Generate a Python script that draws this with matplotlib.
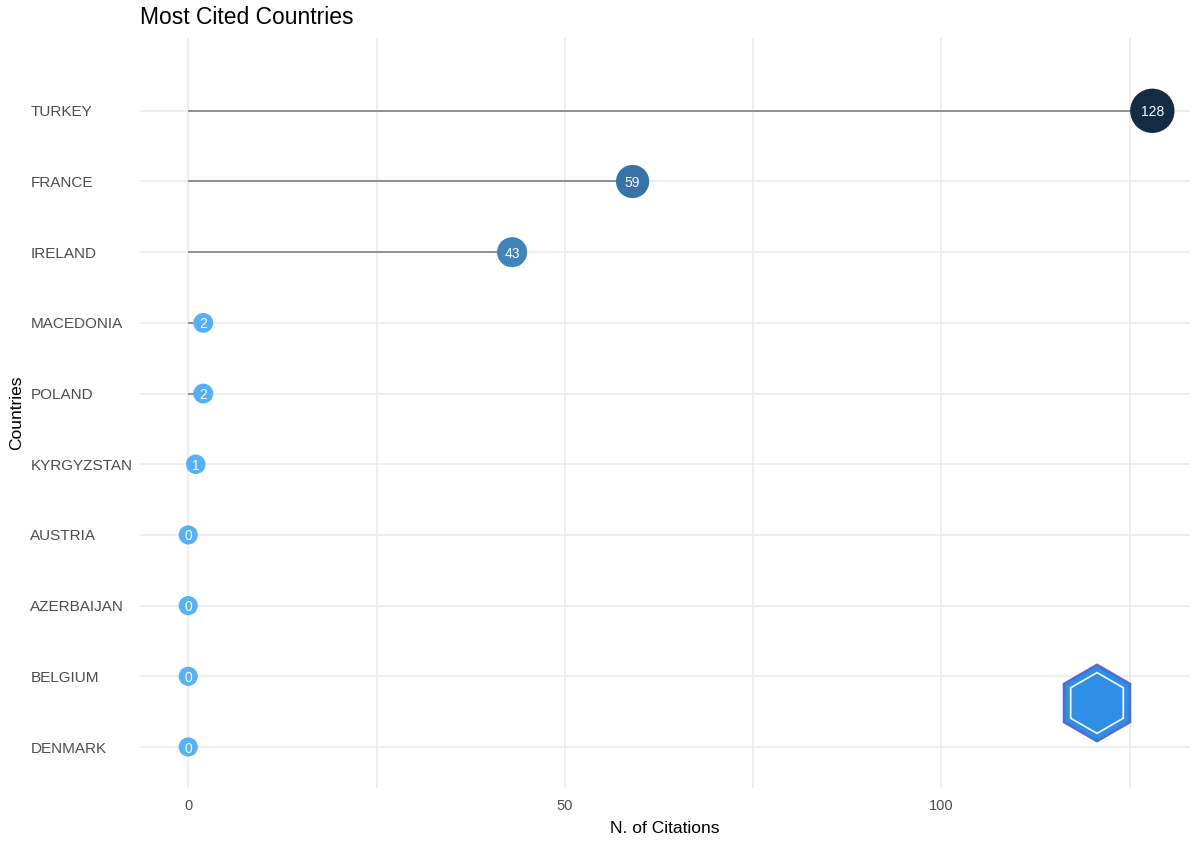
import numpy as np
import matplotlib.pyplot as plt
import matplotlib.colors as mcolors
from matplotlib.patches import Polygon

plt.rcParams['font.family'] = ['Liberation Sans', 'DejaVu Sans']

# data (top to bottom as shown)
countries = ['TURKEY', 'FRANCE', 'IRELAND', 'MACEDONIA', 'POLAND',
             'KYRGYZSTAN', 'AUSTRIA', 'AZERBAIJAN', 'BELGIUM', 'DENMARK']
citations = [128, 59, 43, 2, 2, 1, 0, 0, 0, 0]
x_ticks = [0, 50, 100]

fig = plt.figure(figsize=(11.98, 8.41), dpi=100)
ax = fig.add_axes([140 / 1198, 1 - 788 / 841, 1050 / 1198, (788 - 38) / 841])

n = len(countries)
ypos = np.arange(n, 0, -1)
vals = np.array(citations, dtype=float)

cmap = mcolors.LinearSegmentedColormap.from_list('gg', ['#56B1F7', '#132B43'])
norm = mcolors.Normalize(vmin=vals.min(), vmax=vals.max())
sizes = 190 + 830 * vals / vals.max()

ax.hlines(ypos, 0, vals, color='#7f7f7f', linewidth=1.2, zorder=2)
ax.scatter(vals, ypos, s=sizes, c=cmap(norm(vals)), zorder=3, linewidths=0)
for v, y in zip(citations, ypos):
    ax.text(v, y, str(v), color='white', ha='center', va='center_baseline',
            fontsize=10, zorder=4)

ax.set_xlim(-6.4, 133)
ax.set_ylim(0.42, n + 1.03)
ax.set_xticks(x_ticks)
ax.set_xticks([25, 75, 125], minor=True)
ax.set_yticks(ypos)
ax.set_yticklabels(countries)
for lab in ax.get_yticklabels():
    lab.set_horizontalalignment('left')
ax.tick_params(axis='y', pad=79, length=0, labelsize=11, labelcolor='#4d4d4d')
ax.tick_params(axis='x', length=0, labelsize=10.5, labelcolor='#4d4d4d', pad=8)
ax.tick_params(which='minor', length=0)

ax.grid(True, which='major', color='#ebebeb', linewidth=1.2)
ax.grid(True, which='minor', axis='x', color='#ebebeb', linewidth=1.2)
ax.set_axisbelow(True)
for sp in ax.spines.values():
    sp.set_visible(False)

ax.set_xlabel('N. of Citations', fontsize=12.5, labelpad=6)
ax.set_ylabel('Countries', fontsize=12.5)
ax.yaxis.set_label_coords(-116 / 1050, 0.5)
fig.text(140 / 1198, 1 - 17 / 841, 'Most Cited Countries', fontsize=16.5,
         ha='left', va='center')

# logo placeholder: pointy-top hexagon, drawn in inches
cx, cy, r = 10.97, 1.38, 0.38
ang = np.deg2rad(90 + 60 * np.arange(6))
hexa = Polygon(np.column_stack([cx + r * np.cos(ang), cy + r * np.sin(ang)]),
               closed=True, transform=fig.dpi_scale_trans,
               facecolor='#2d8fe6', edgecolor='#4a6fd6', linewidth=2)
fig.patches.append(hexa)
hexb = Polygon(np.column_stack([cx + 0.8 * r * np.cos(ang), cy + 0.8 * r * np.sin(ang)]),
               closed=True, transform=fig.dpi_scale_trans,
               facecolor='none', edgecolor='white', linewidth=1.2)
fig.patches.append(hexb)

fig.savefig('out.png', dpi=100)
